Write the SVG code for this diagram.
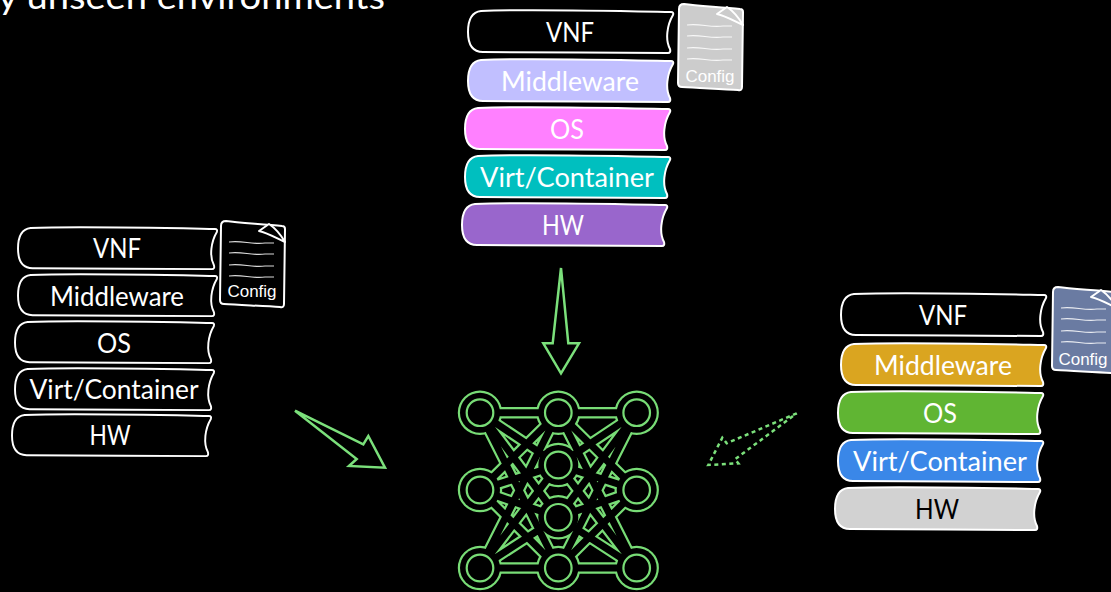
<svg xmlns="http://www.w3.org/2000/svg" width="1111" height="592" viewBox="0 0 1111 592">
<style>
.bar{stroke:#fff;stroke-width:2;stroke-linejoin:round}
.lbl{font-family:"Lato","Noto Sans",sans-serif;font-size:26px;fill:#fff;text-anchor:middle}
.doc{stroke:#fff;stroke-width:2;stroke-linejoin:round}
.wave{fill:none;stroke:#fff;stroke-width:1.2;opacity:.85}
.cfg{font-family:"Liberation Sans",Arial,sans-serif;font-size:17px;fill:#fff;text-anchor:middle}
.arrow{fill:none;stroke:#7be07b;stroke-width:2.5;stroke-linejoin:miter}
.title{font-family:"Lato","Noto Sans",sans-serif;font-size:34px;fill:#fff}
</style>
<defs>
<path id="bar" d="M13,1C60,-1 150,1 203,2Q206,2 205,5C199,15 197,30 202,39Q203,43 200,43C150,43 60,42 15,42C5,42 0,35 0,22C0,10 4,2 13,1Z"/>
<path id="sheet" d="M6,0C20,2 45,3 62,5Q65,5 65,8L64,83Q64,87 60,86C45,85 20,84 4,83Q0,83 0,79L1,5Q1,0 6,0Z"/>
<path id="fold" d="M39,10L49,3Q58,9 65,21C58,18 48,12 39,10Z"/>
<path id="waves" d="M9,21C22,19 32,24 45,22 50,22 52,22 54,22M9,32C22,30 32,35 45,33 50,33 52,33 54,33M9,44C22,42 32,47 45,45 50,45 52,45 54,45M9,55C22,53 32,58 45,56 50,56 52,56 54,56"/>
<path id="edges" d="M480,412.7L558.3,412.7M480,412.7L558.3,465M480,412.7L558.3,517.3M480,412.7L558.3,568M480,490L558.3,412.7M480,490L558.3,465M480,490L558.3,517.3M480,490L558.3,568M480,568L558.3,412.7M480,568L558.3,465M480,568L558.3,517.3M480,568L558.3,568M636.7,412.7L558.3,412.7M636.7,412.7L558.3,465M636.7,412.7L558.3,517.3M636.7,412.7L558.3,568M636.7,490L558.3,412.7M636.7,490L558.3,465M636.7,490L558.3,517.3M636.7,490L558.3,568M636.7,568L558.3,412.7M636.7,568L558.3,465M636.7,568L558.3,517.3M636.7,568L558.3,568"/>
<g id="hubs">
<circle cx="480" cy="412.7" r="20"/><circle cx="558.3" cy="412.7" r="20"/><circle cx="636.7" cy="412.7" r="20"/>
<circle cx="480" cy="490" r="20"/><circle cx="636.7" cy="490" r="20"/>
<circle cx="480" cy="568" r="20"/><circle cx="558.3" cy="568" r="20"/><circle cx="636.7" cy="568" r="20"/>
<circle cx="558.3" cy="465" r="20"/><circle cx="558.3" cy="517.3" r="20"/>
</g>
<g id="inner">
<circle cx="480" cy="412.7" r="13.3"/><circle cx="558.3" cy="412.7" r="13.3"/><circle cx="636.7" cy="412.7" r="13.3"/>
<circle cx="480" cy="490" r="13.3"/><circle cx="636.7" cy="490" r="13.3"/>
<circle cx="480" cy="568" r="13.3"/><circle cx="558.3" cy="568" r="13.3"/><circle cx="636.7" cy="568" r="13.3"/>
<circle cx="558.3" cy="465" r="13.3"/><circle cx="558.3" cy="517.3" r="13.3"/>
</g>
</defs>
<rect width="1111" height="592" fill="#000"/>
<text class="title" x="-2" y="9" textLength="387" lengthAdjust="spacingAndGlyphs">y unseen environments</text>

<g id="stack-top">
<g id="top-vnf"><use href="#bar" class="bar" x="468" y="10" fill="#000"/><text class="lbl" x="570" y="42" textLength="48" lengthAdjust="spacingAndGlyphs">VNF</text></g>
<g id="top-middleware"><use href="#bar" class="bar" x="468" y="59" fill="#c1bfff"/><text class="lbl" x="570" y="91" textLength="138" lengthAdjust="spacingAndGlyphs">Middleware</text></g>
<g id="top-os"><use href="#bar" class="bar" x="465" y="107" fill="#ff80ff"/><text class="lbl" x="567" y="139" textLength="34" lengthAdjust="spacingAndGlyphs">OS</text></g>
<g id="top-virt"><use href="#bar" class="bar" x="465" y="155" fill="#00bfbf"/><text class="lbl" x="567" y="187" textLength="174" lengthAdjust="spacingAndGlyphs">Virt/Container</text></g>
<g id="top-hw"><use href="#bar" class="bar" x="462" y="203" fill="#9966cc"/><text class="lbl" x="563" y="235" textLength="42" lengthAdjust="spacingAndGlyphs">HW</text></g>
<g id="top-config" transform="translate(678,4)"><use href="#sheet" class="doc" fill="#cccccc"/><use href="#waves" class="wave"/><use href="#fold" class="doc" fill="#cccccc" stroke-width="1.5"/><text class="cfg" x="32" y="78">Config</text></g>
</g>

<g id="stack-left">
<g id="left-vnf"><use href="#bar" class="bar" transform="translate(18,227) scale(.97,.98)" fill="#000"/><text class="lbl" x="117" y="258" textLength="48" lengthAdjust="spacingAndGlyphs">VNF</text></g>
<g id="left-middleware"><use href="#bar" class="bar" transform="translate(18,274) scale(.97,.98)" fill="#000"/><text class="lbl" x="117" y="306" textLength="134" lengthAdjust="spacingAndGlyphs">Middleware</text></g>
<g id="left-os"><use href="#bar" class="bar" transform="translate(15,321) scale(.97,.98)" fill="#000"/><text class="lbl" x="114" y="353" textLength="34" lengthAdjust="spacingAndGlyphs">OS</text></g>
<g id="left-virt"><use href="#bar" class="bar" transform="translate(15,368) scale(.97,.98)" fill="#000"/><text class="lbl" x="114" y="399" textLength="169" lengthAdjust="spacingAndGlyphs">Virt/Container</text></g>
<g id="left-hw"><use href="#bar" class="bar" transform="translate(12,414) scale(.97,.98)" fill="#000"/><text class="lbl" x="110" y="445" textLength="41" lengthAdjust="spacingAndGlyphs">HW</text></g>
<g id="left-config" transform="translate(220,221)"><use href="#sheet" class="doc" fill="#000"/><use href="#waves" class="wave"/><use href="#fold" class="doc" fill="#000" stroke-width="1.5"/><text class="cfg" x="32" y="76">Config</text></g>
</g>

<g id="stack-right">
<g id="right-vnf"><use href="#bar" class="bar" x="841" y="293" fill="#000"/><text class="lbl" x="943" y="325" textLength="48" lengthAdjust="spacingAndGlyphs">VNF</text></g>
<g id="right-middleware"><use href="#bar" class="bar" x="841" y="343" fill="#daa520"/><text class="lbl" x="943" y="375" textLength="138" lengthAdjust="spacingAndGlyphs">Middleware</text></g>
<g id="right-os"><use href="#bar" class="bar" x="838" y="391" fill="#60b533"/><text class="lbl" x="940" y="423" textLength="34" lengthAdjust="spacingAndGlyphs">OS</text></g>
<g id="right-virt"><use href="#bar" class="bar" x="838" y="439" fill="#3a87e8"/><text class="lbl" x="940" y="471" textLength="174" lengthAdjust="spacingAndGlyphs">Virt/Container</text></g>
<g id="right-hw"><use href="#bar" class="bar" x="835" y="487" fill="#d2d2d2"/><text class="lbl" x="937" y="519" textLength="44" lengthAdjust="spacingAndGlyphs" style="fill:#000">HW</text></g>
<g id="right-config" transform="translate(1052,287)"><use href="#sheet" class="doc" fill="#6a7ba2"/><use href="#waves" class="wave"/><use href="#fold" class="doc" fill="#6a7ba2" stroke-width="1.5"/><text class="cfg" x="31" y="78">Config</text></g>
</g>

<g id="network">
<use href="#edges" fill="none" stroke="#78dc76" stroke-width="11.4"/>
<use href="#hubs" fill="#78dc76" stroke="#78dc76" stroke-width="4.4"/>
<use href="#edges" fill="none" stroke="#000" stroke-width="7"/>
<use href="#hubs" fill="#000"/>
<use href="#inner" fill="none" stroke="#78dc76" stroke-width="2.2"/>
</g>

<g id="connectors">
<path class="arrow" d="M561,268L568.3,343.3L579,343.3L561,373.3L543.3,343.3L552.7,343.3Z"/>
<path class="arrow" d="M295,410.7L363.3,444.3L368.3,436L385,467.7L349,466L356.7,459Z"/>
<path class="arrow" stroke-dasharray="4 3.5" d="M796.7,413.3L726.7,443.3L722.3,437.7L708.3,465L738.3,463.3L735,459.3Z"/>
</g>
</svg>
